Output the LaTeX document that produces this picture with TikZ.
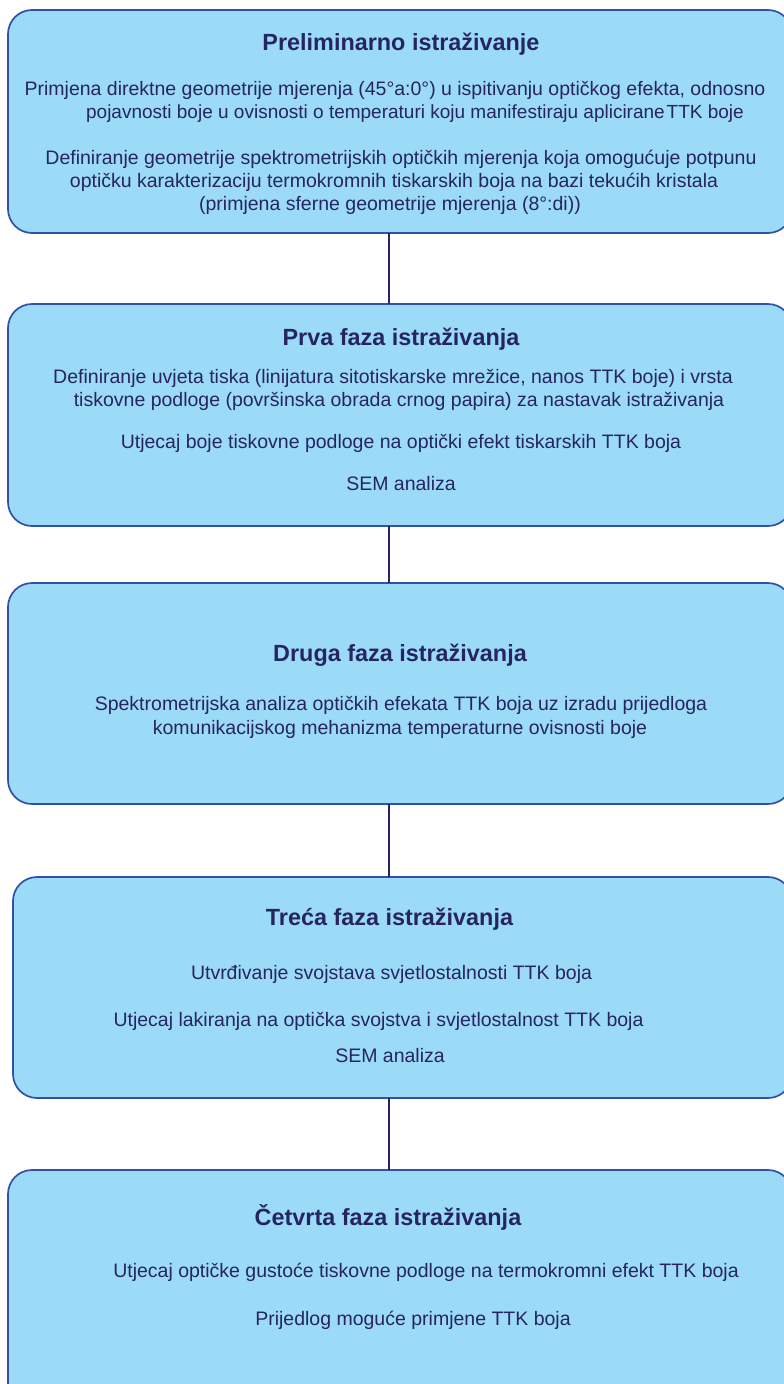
\documentclass[tikz,border=0pt]{standalone}
\usepackage{fontspec}
\setmainfont{Liberation Sans}
\definecolor{boxfill}{HTML}{9CDBF8}
\definecolor{boxline}{HTML}{3150A6}
\definecolor{txt}{HTML}{262461}
\begin{document}
\begin{tikzpicture}[x=1pt,y=-1pt,
  phase/.style={draw=boxline,line width=1.7pt,fill=boxfill,rounded corners=24pt},
  ttl/.style={anchor=base,text=txt,inner sep=0pt,font=\fontsize{23.4}{28}\selectfont\bfseries},
  body/.style={anchor=base,text=txt,inner sep=0pt,font=\fontsize{19.5}{23}\selectfont},
  link/.style={draw=txt,line width=2pt}]
\useasboundingbox (0,0) rectangle (784,1384);
\begin{scope}
\clip (0,0) rectangle (784,1384);
\draw[phase] (8,10) rectangle (792,233);
\draw[phase] (8,304) rectangle (792,526);
\draw[phase] (8,583) rectangle (792,804);
\draw[phase] (13,877) rectangle (792,1098);
\draw[phase] (8,1170) rectangle (792,1410);
\end{scope}
\coordinate (b1s) at (389,233);
\coordinate (b2n) at (389,304);
\coordinate (b2s) at (389,526);
\coordinate (b3n) at (389,583);
\coordinate (b3s) at (389,804);
\coordinate (b4n) at (389,877);
\coordinate (b4s) at (389,1098);
\coordinate (b5n) at (389,1170);
\draw[link] (b1s) -- (b2n);
\draw[link] (b2s) -- (b3n);
\draw[link] (b3s) -- (b4n);
\draw[link] (b4s) -- (b5n);
% box 1
\node[ttl] (t1) at (401,50) {Preliminarno istraživanje};
\node[body] (p1a) at (395,95) {Primjena direktne geometrije mjerenja (45°a:0°) u ispitivanju optičkog efekta, odnosno};
\node[body,font=\fontsize{19}{23}\selectfont] (p1b) at (415,118) {pojavnosti boje u ovisnosti o temperaturi koju manifestiraju aplicirane\hspace{0.1em}TTK boje};
\node[body] (p1c) at (401,164) {Definiranje geometrije spektrometrijskih optičkih mjerenja koja omogućuje potpunu};
\node[body] (p1d) at (394,187) {optičku karakterizaciju termokromnih tiskarskih boja na bazi tekućih kristala};
\node[body] (p1e) at (390,210) {(primjena sferne geometrije mjerenja (8°:di))};
% box 2
\node[ttl] (t2) at (401,345) {Prva faza istraživanja};
\node[body] (p2a) at (393,383) {Definiranje uvjeta tiska (linijatura sitotiskarske mrežice, nanos TTK boje) i vrsta};
\node[body] (p2b) at (399,406) {tiskovne podloge (površinska obrada crnog papira) za nastavak istraživanja};
\node[body] (p2c) at (401,448) {Utjecaj boje tiskovne podloge na optički efekt tiskarskih TTK boja};
\node[body] (p2d) at (401,490) {SEM analiza};
% box 3
\node[ttl] (t3) at (400,661) {Druga faza istraživanja};
\node[body] (p3a) at (401,710) {Spektrometrijska analiza optičkih efekata TTK boja uz izradu prijedloga};
\node[body] (p3b) at (400,734) {komunikacijskog mehanizma temperaturne ovisnosti boje};
% box 4
\node[ttl] (t4) at (389.5,925) {Treća faza istraživanja};
\node[body] (p4a) at (391.5,979) {Utvrđivanje svojstava svjetlostalnosti TTK boja};
\node[body] (p4b) at (378.5,1026) {Utjecaj lakiranja na optička svojstva i svjetlostalnost TTK boja};
\node[body] (p4c) at (390,1062) {SEM analiza};
% box 5
\node[ttl] (t5) at (388,1225) {Četvrta faza istraživanja};
\node[body] (p5a) at (426,1277) {Utjecaj optičke gustoće tiskovne podloge na termokromni efekt TTK boja};
\node[body] (p5b) at (413,1325) {Prijedlog moguće primjene TTK boja};
\end{tikzpicture}
\end{document}
